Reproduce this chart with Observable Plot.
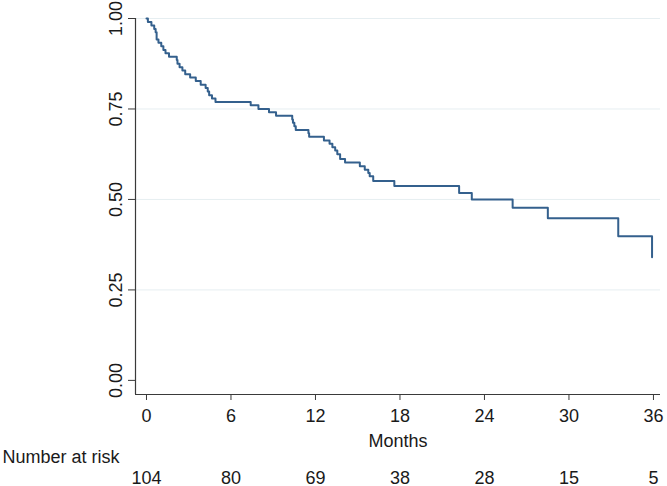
<!DOCTYPE html>
<html>
<head>
<meta charset="utf-8">
<script src="https://cdn.jsdelivr.net/npm/d3@7"></script>
<script src="https://cdn.jsdelivr.net/npm/@observablehq/plot@0.6"></script>
<style>
  html, body { margin: 0; padding: 0; background: #ffffff; }
  #chart { width: 667px; height: 486px; }
</style>
</head>
<body>
<div id="chart"></div>
<script>
// Kaplan–Meier step points
const months = [0, 0.1, 0.35, 0.55, 0.65, 0.72, 0.85, 1.05, 1.2, 1.35, 1.6,
  2.15, 2.2, 2.35, 2.55, 2.75, 3.1, 3.5, 3.85, 4.2, 4.35, 4.45, 4.65, 4.9,
  7.4, 7.95, 8.7, 9.2, 10.35, 10.4, 10.5, 10.6, 11.5, 11.55, 12.6,
  13.0, 13.2, 13.4, 13.55, 13.75, 14.1, 15.15, 15.5, 15.75, 15.85, 16.1,
  17.6, 22.2, 23.1, 26.0, 28.5, 33.5, 35.9];
const survival = [1.0, 0.990, 0.981, 0.971, 0.962, 0.942, 0.933, 0.923, 0.913, 0.904, 0.894,
  0.885, 0.875, 0.865, 0.856, 0.846, 0.837, 0.827, 0.817, 0.808, 0.798, 0.788, 0.779, 0.769,
  0.760, 0.750, 0.741, 0.731, 0.721, 0.712, 0.702, 0.692, 0.683, 0.673, 0.663,
  0.654, 0.644, 0.635, 0.625, 0.612, 0.602, 0.592, 0.582, 0.573, 0.564, 0.551,
  0.537, 0.518, 0.500, 0.477, 0.448, 0.398, 0.340];

const xTicks = [0, 6, 12, 18, 24, 30, 36];
const atRisk = [104, 80, 69, 38, 28, 15, 5];
const yTicks = [0, 0.25, 0.5, 0.75, 1];
const gridValues = [0.25, 0.5, 0.75, 1];
const xTitle = "Months";
const riskTitle = "Number at risk";

const xDomain = [-0.78, 36.5];
const yDomain = [-0.039, 1];

const curve = months.map((m, i) => ({month: m, surv: survival[i]}));
const riskRows = xTicks.map((m, i) => ({month: m, n: atRisk[i]}));

const ink = "#1a1a1a";
const axisInk = "#3a3a3a";

const chart = Plot.plot({
  width: 667,
  height: 486,
  marginLeft: 135,
  marginRight: 7,
  marginTop: 18,
  marginBottom: 92,
  x: {domain: xDomain},
  y: {domain: yDomain},
  style: {fontFamily: "'Liberation Sans', Arial, sans-serif", fontSize: "18px", background: "#ffffff", color: ink},
  marks: [
    Plot.ruleY(gridValues, {stroke: "#e6eef1", strokeWidth: 1}),
    Plot.ruleX([xDomain[0]], {stroke: axisInk, strokeWidth: 1.2}),
    Plot.ruleY([yDomain[0]], {stroke: axisInk, strokeWidth: 1.2}),
    Plot.axisY({ticks: yTicks, tickSize: 7, tickPadding: 7, tickRotate: -90, tickFormat: d3.format(".2f"),
      label: null, stroke: axisInk, fill: ink, fontSize: 18}),
    Plot.axisX({ticks: xTicks, tickSize: 6, tickPadding: 9, label: null, stroke: axisInk, fill: ink, fontSize: 18}),
    Plot.line(curve, {x: "month", y: "surv", curve: "step-after", stroke: "#34608d", strokeWidth: 2}),
    Plot.text([xTitle], {frameAnchor: "bottom", dy: 52, fill: ink, fontSize: 18}),
    Plot.text([riskTitle], {frameAnchor: "bottom-left", dx: -133, dy: 68, textAnchor: "start", fill: ink, fontSize: 18}),
    Plot.text(riskRows, {x: "month", frameAnchor: "bottom", text: d => String(d.n), dy: 89, fill: ink, fontSize: 18})
  ]
});
document.getElementById("chart").appendChild(chart);
</script>
</body>
</html>
